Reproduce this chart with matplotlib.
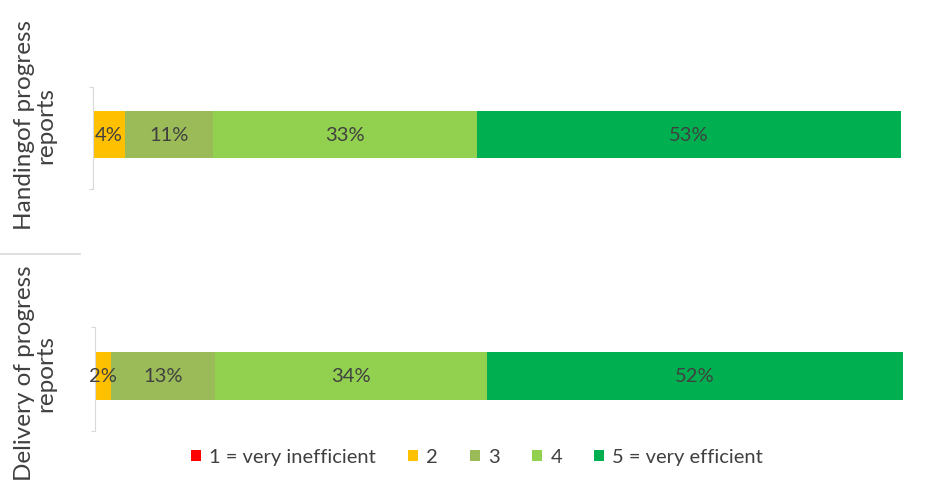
import matplotlib.pyplot as plt

categories = ['Handingof progress\nreports', 'Delivery of progress\nreports']
levels = ['1 = very inefficient', '2', '3', '4', '5 = very efficient']
handling = [0, 4, 11, 33, 53]
delivery = [0, 2, 13, 34, 52]
colors = ['#FF0000', '#FFC000', '#9BBB59', '#92D050', '#00B050']

plt.rcParams['font.family'] = ['Lato', 'DejaVu Sans']
text_col = '#404040'

fig = plt.figure(figsize=(9.33, 4.85), dpi=100)

# axes boxes in figure fractions (left, bottom, width, height)
boxes = [(93 / 933, 295 / 485, 808 / 933, 102 / 485),
         (95 / 933, 53 / 485, 808 / 933, 104 / 485)]
label_y = [125, 373]

handles = []
for k, (vals, box) in enumerate(zip([handling, delivery], boxes)):
    ax = fig.add_axes(box)
    left = 0
    for i, v in enumerate(vals):
        b = ax.barh(0.03, v, left=left, height=0.46, color=colors[i],
                    label=levels[i])
        if k == 0:
            handles.append(b)
        if v > 0:
            ax.text(left + v / 2, 0.03, f'{v}%', ha='center', va='center',
                    fontsize=14.5, color=text_col)
        left += v
    ax.set_xlim(0, sum(vals))
    ax.set_ylim(-0.5, 0.5)
    ax.set_xticks([])
    ax.set_yticks([-0.5, 0.5])
    ax.set_yticklabels([])
    ax.tick_params(axis='y', length=3, color='#D9D9D9')
    for s in ['top', 'right', 'bottom']:
        ax.spines[s].set_visible(False)
    ax.spines['left'].set_color('#D9D9D9')
    fig.text(35 / 933, 1 - label_y[k] / 485, categories[k], rotation=90,
             ha='center', va='center', fontsize=17.5, color=text_col,
             linespacing=1.05)

# separator between the two category labels
fig.add_artist(plt.Line2D([0, 80 / 933], [1 - 255 / 485, 1 - 255 / 485],
                          color='#D9D9D9', lw=1.2))

fig.legend(handles=handles, labels=levels, loc='center',
           bbox_to_anchor=(477 / 933, 1 - 458 / 485), ncol=5, frameon=False,
           fontsize=14.5, handlelength=0.5, handleheight=0.5,
           columnspacing=1.6, handletextpad=0.4, labelcolor=text_col)

fig.savefig('out.png', dpi=100)
